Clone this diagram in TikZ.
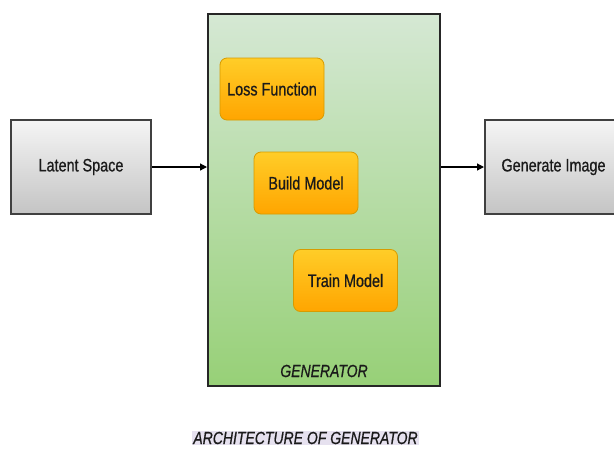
\documentclass[tikz,border=0pt]{standalone}
\usepackage{fontspec}
\setmainfont{Liberation Sans}[FakeStretch=0.8, RawFeature={embolden=0.7}]
\usetikzlibrary{arrows.meta}
\definecolor{grayTop}{HTML}{F5F5F5}
\definecolor{grayBot}{HTML}{C4C4C4}
\definecolor{greenTop}{HTML}{D5E8D4}
\definecolor{greenBot}{HTML}{97D077}
\definecolor{orTop}{HTML}{FFCD28}
\definecolor{orBot}{HTML}{FFA500}
\definecolor{orLine}{HTML}{D79B00}
\definecolor{capBg}{HTML}{E6E1EF}
\definecolor{txt}{HTML}{1A1A1A}
\tikzset{
  graybox/.style={draw=black!75, line width=2pt, top color=grayTop, bottom color=grayBot, minimum width=140pt, minimum height=94pt, font=\fontsize{18}{20}\selectfont, text=txt, inner sep=0pt},
  genbox/.style={draw=black!85, line width=2pt, top color=greenTop, bottom color=greenBot, minimum width=232pt, minimum height=372pt, inner sep=0pt},
  orbox/.style={draw=orLine, line width=0.8pt, rounded corners=7pt, top color=orTop, bottom color=orBot, minimum width=104pt, minimum height=62pt, font=\fontsize{18}{20}\selectfont, text=txt, inner sep=0pt},
  conn/.style={draw=black, line width=1.2pt, -{Triangle[length=7pt,width=7pt]}}
}
\begin{document}
\begin{tikzpicture}[x=1pt,y=-1pt]
\useasboundingbox (0,0) rectangle (614,448);
\begin{scope}
\clip (0,0) rectangle (614,448);
\node[genbox] (gen) at (324,200) {};
\node[graybox] (lat) at (81,167) {Latent Space};
\node[graybox] (img) at (555,167) {\hspace*{-3pt}Generate Image};
\node[orbox] (loss) at (272,89) {Loss Function};
\node[orbox] (build) at (306,183) {Build Model};
\node[orbox] (train) at (345.5,280.5) {Train Model};
\node[font=\fontsize{17.5}{19}\selectfont\itshape, text=txt] (gtxt) at (324,371) {GENERATOR};
\node[fill=capBg, inner sep=1pt, font=\fontsize{17.5}{19}\selectfont\itshape, text=txt] (cap) at (305.5,438) {ARCHITECTURE OF GENERATOR};
\draw[conn] (lat.east) -- (gen.west |- lat.east);
\draw[conn] (gen.east |- img.west) -- (img.west);
\end{scope}
\end{tikzpicture}
\end{document}
